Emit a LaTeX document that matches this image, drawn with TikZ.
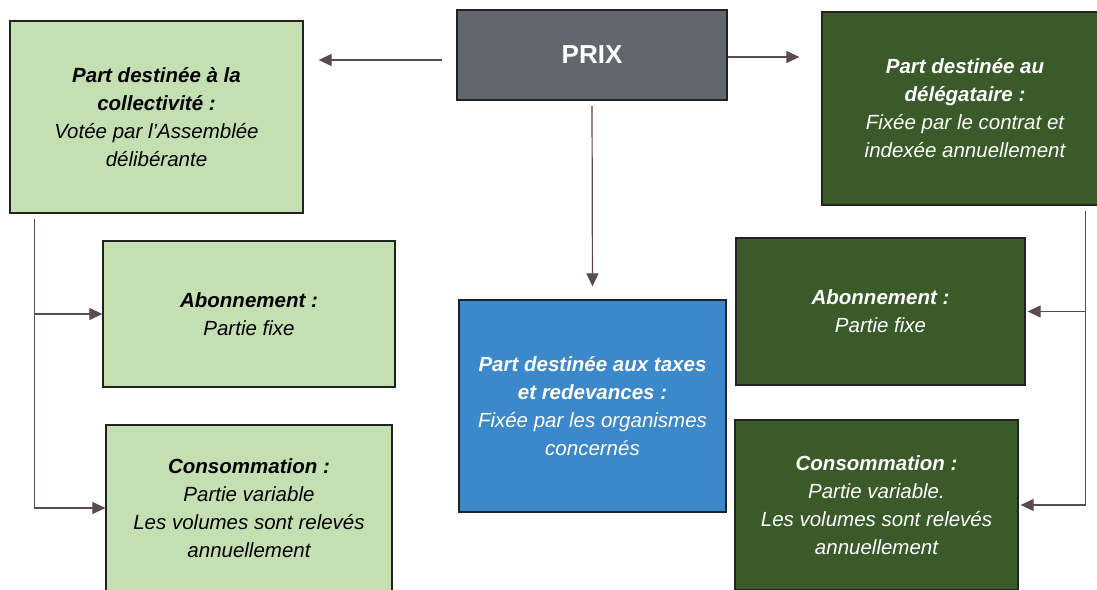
\documentclass[tikz,border=0pt]{standalone}
\usepackage{fontspec}
\setmainfont{Liberation Sans}
\usetikzlibrary{arrows.meta}
\definecolor{lgreen}{HTML}{C4DFB1}
\definecolor{dgreen}{HTML}{3A5A29}
\definecolor{prixgray}{HTML}{62676F}
\definecolor{taxblue}{HTML}{3B88CB}
\definecolor{boxline}{HTML}{222222}
\definecolor{connline}{HTML}{5A4A54}
\begin{document}
\begin{tikzpicture}[x=1pt,y=-1pt,
  box/.style={draw=boxline, line width=1.3pt, align=center, inner sep=0pt,
    font=\fontsize{20.5}{28}\selectfont\itshape},
  conn/.style={draw=connline, line width=1.2pt},
  arr/.style={conn, -{Triangle[length=13pt,width=12pt]}}]
\useasboundingbox (0,0) rectangle (1097,589);
\fill[white] (0,0) rectangle (1097,589);

\node[box, fill=prixgray, text=white, minimum width=270pt, minimum height=90pt,
  font=\fontsize{26}{30}\selectfont\bfseries] (prix) at (592,55) {PRIX};

\node[box, fill=lgreen, minimum width=293pt, minimum height=192pt] (L1) at (156.5,117)
  {\textbf{Part destinée à la}\\\textbf{collectivité :}\\Votée par l’Assemblée\\délibérante};
\node[box, fill=lgreen, minimum width=292pt, minimum height=146pt] (L2) at (249,314)
  {\textbf{Abonnement :}\\Partie fixe};
\node[box, fill=lgreen, minimum width=286pt, minimum height=166pt] (L3) at (249,508)
  {\textbf{Consommation :}\\Partie variable\\Les volumes sont relevés\\annuellement};

\node[box, fill=taxblue, text=white, minimum width=267pt, minimum height=212pt] (tax) at (592.5,406)
  {\textbf{Part destinée aux taxes}\\\textbf{et redevances :}\\Fixée par les organismes\\concernés};

\node[box, fill=dgreen, text=white, minimum width=286pt, minimum height=193pt] (R1) at (965,108.5)
  {\textbf{Part destinée au}\\\textbf{délégataire :}\\Fixée par le contrat et\\indexée annuellement};
\node[box, fill=dgreen, text=white, minimum width=289pt, minimum height=147pt] (R2) at (880.5,311.5)
  {\textbf{Abonnement :}\\Partie fixe};
\node[box, fill=dgreen, text=white, minimum width=283pt, minimum height=170pt] (R3) at (876.5,505)
  {\textbf{Consommation :}\\Partie variable.\\Les volumes sont relevés\\annuellement};

% connectors from PRIX
\draw[arr, shorten <=14pt, shorten >=15pt] ([yshift=-5pt]prix.west) -- ([yshift=-5pt]prix.west -| L1.east);
\draw[arr, shorten >=22pt] ([yshift=-2pt]prix.east) -- ([yshift=-2pt]prix.east -| R1.west);
\draw[arr, shorten <=5pt, shorten >=13pt] (prix.south) -- (tax.north);

% left branch
\coordinate (lv) at ([xshift=25pt]L1.south west);
\draw[conn] ([yshift=-5pt]lv) -- (lv |- L3.west);
\draw[arr] (lv |- L2.west) -- (L2.west);
\draw[arr] (lv |- L3.west) -- (L3.west);

% right branch
\coordinate (rv) at ([xshift=-23pt]R1.south east);
\draw[conn] ([yshift=-5pt]rv) -- (rv |- R3.east);
\draw[arr, shorten >=2pt] (rv |- R2.east) -- (R2.east);
\draw[arr, shorten >=2pt] (rv |- R3.east) -- (R3.east);
\end{tikzpicture}
\end{document}
